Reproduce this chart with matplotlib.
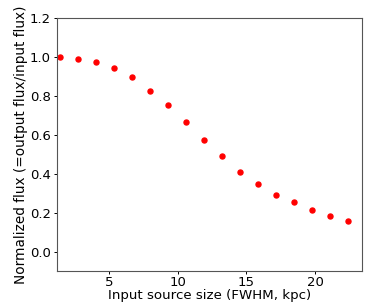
import numpy as np
import matplotlib
matplotlib.use('Agg')
import matplotlib.pyplot as plt

# source size (FWHM, kpc) vs normalized flux
size_kpc = [1.42, 2.73, 4.04, 5.36, 6.67, 7.98, 9.29, 10.60, 11.92,
            13.23, 14.54, 15.85, 17.16, 18.48, 19.79, 21.10, 22.41]
norm_flux = [0.998, 0.991, 0.974, 0.941, 0.895, 0.826, 0.751, 0.665, 0.574,
             0.489, 0.410, 0.346, 0.293, 0.252, 0.216, 0.185, 0.156]

fig = plt.figure(figsize=(3.82, 3.05), dpi=100)
ax = fig.add_axes([57 / 382, 1 - 271 / 305, 305 / 382, 253 / 305])
ax.plot(size_kpc, norm_flux, 'o', color='red', ms=3.6)
ax.set_xlim(1.23, 23.4)
ax.set_ylim(-0.1, 1.2)
ax.set_xticks([5, 10, 15, 20])
ax.set_yticks([0.0, 0.2, 0.4, 0.6, 0.8, 1.0, 1.2])
ax.tick_params(labelsize=9.5, length=2.5, width=0.7, pad=2)
ax.tick_params(axis='x', pad=1)
for s in ax.spines.values():
    s.set_color('#555555')
    s.set_linewidth(0.8)
ax.set_xlabel('Input source size (FWHM, kpc)', fontsize=9.6, labelpad=0)
ax.set_ylabel('Normalized flux (=output flux/input flux)', fontsize=9.8, labelpad=1)
fig.savefig('out.png', dpi=100)
